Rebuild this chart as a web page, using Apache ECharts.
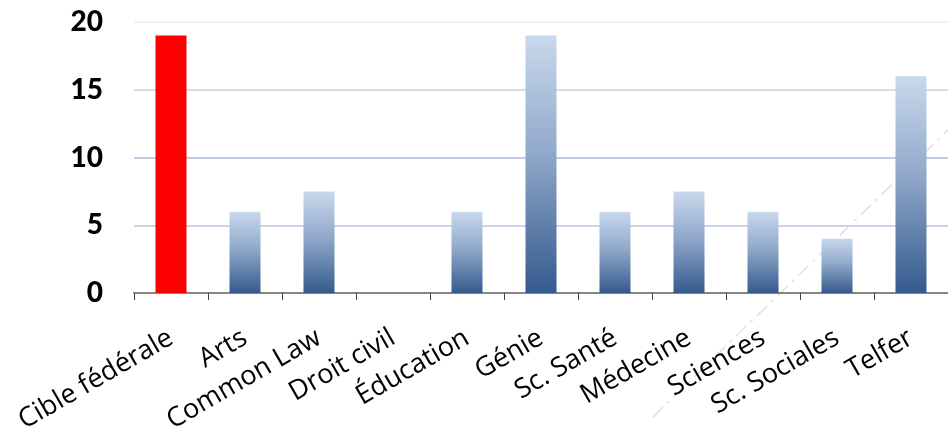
<!DOCTYPE html>
<html>
<head>
<meta charset="utf-8">
<script src="https://cdn.jsdelivr.net/npm/echarts@6/dist/echarts.min.js"></script>
<style>
  html, body { margin: 0; padding: 0; background: #fff; }
  #chart { width: 948px; height: 427px; }
</style>
</head>
<body>
<div id="chart"></div>
<script>
// Faculties (first entry is the federal target)
const categories = ['Cible fédérale', 'Arts', 'Common Law', 'Droit civil', 'Éducation', 'Génie',
  'Sc. Santé', 'Médecine', 'Sciences', 'Sc. Sociales', 'Telfer'];
const values = [19, 6, 7.5, 0, 6, 19, 6, 7.5, 6, 4, 16];
const yTicks = [0, 5, 10, 15, 20];

const blueGradient = new echarts.graphic.LinearGradient(0, 0, 0, 1, [
  { offset: 0, color: '#c9d9ed' },
  { offset: 0.45, color: '#91a9cb' },
  { offset: 1, color: '#345a8d' }
]);

const seriesData = values.map((v, i) => ({
  value: v,
  itemStyle: { color: i === 0 ? '#ff0000' : blueGradient }
}));

const chart = echarts.init(document.getElementById('chart'), null, { renderer: 'canvas' });
chart.setOption({
  animation: false,
  grid: {
    left: 134, right: 0, top: 22, bottom: 134,
    containLabel: false,
    outerBoundsMode: 'none'
  },
  xAxis: {
    type: 'category',
    data: categories,
    axisLine: { lineStyle: { color: '#868686', width: 2 } },
    axisTick: { show: true, length: 7, lineStyle: { color: '#404040', width: 1 } },
    axisLabel: {
      rotate: 30,
      interval: 0,
      margin: 43,
      fontFamily: 'Open Sans',
      fontSize: 27,
      color: '#000'
    }
  },
  yAxis: {
    type: 'value',
    min: yTicks[0],
    max: yTicks[yTicks.length - 1],
    interval: 5,
    axisLine: { show: false },
    axisTick: { show: false },
    axisLabel: {
      fontFamily: 'Lato',
      fontWeight: 900,
      fontSize: 28,
      color: '#000',
      margin: 31
    },
    splitLine: {
      lineStyle: { color: ['#c6d3e6', '#c8d5e7', '#bfcde2', '#d2ddec', '#eef3fa'], width: 2 }
    }
  },
  series: [{
    type: 'bar',
    data: seriesData,
    barWidth: 31
  }],
  graphic: [{
    type: 'line',
    silent: true,
    shape: { x1: 653, y1: 417, x2: 948, y2: 130 },
    style: { stroke: '#d8d8d8', lineWidth: 1.2, lineDash: [14, 6, 3, 6] }
  }]
});
</script>
</body>
</html>
